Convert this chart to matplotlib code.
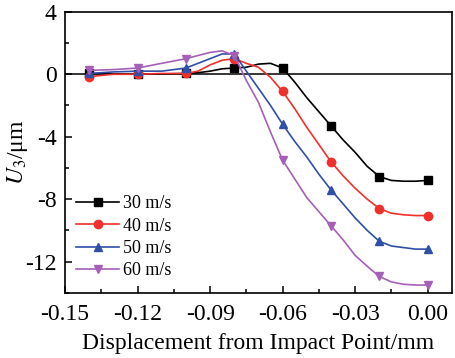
import matplotlib
matplotlib.use("Agg")
import matplotlib.pyplot as plt
from matplotlib.ticker import MultipleLocator

# displacement from impact point (mm)
x = [-0.14, -0.13, -0.12, -0.11, -0.10, -0.095, -0.09, -0.085, -0.08, -0.075,
     -0.07, -0.065, -0.06, -0.055, -0.05, -0.045, -0.04, -0.035, -0.03, -0.025,
     -0.02, -0.015, -0.01, -0.005, 0.00]

u3_30 = [0.05, 0.02, 0.0, 0.02, 0.05, 0.1, 0.2, 0.35, 0.4, 0.45,
         0.65, 0.7, 0.4, -0.5, -1.5, -2.4, -3.3, -4.2, -5.0, -5.9,
         -6.55, -6.8, -6.85, -6.85, -6.8]
u3_40 = [-0.15, 0.0, 0.0, 0.05, 0.05, 0.2, 0.6, 0.9, 1.0, 0.7,
         0.45, -0.2, -1.1, -2.2, -3.4, -4.5, -5.6, -6.5, -7.3, -8.0,
         -8.6, -8.9, -9.0, -9.05, -9.05]
u3_50 = [0.05, 0.15, 0.2, 0.2, 0.4, 0.7, 1.0, 1.3, 1.3, 0.2,
         -0.9, -2.0, -3.2, -4.3, -5.3, -6.4, -7.4, -8.3, -9.2, -10.0,
         -10.7, -11.0, -11.1, -11.2, -11.2]
u3_60 = [0.25, 0.3, 0.4, 0.7, 1.0, 1.2, 1.4, 1.5, 1.2, -0.4,
         -1.8, -3.7, -5.5, -6.7, -7.9, -8.8, -9.7, -10.6, -11.6, -12.3,
         -12.95, -13.3, -13.45, -13.5, -13.5]

labels = ["30 m/s", "40 m/s", "50 m/s", "60 m/s"]
series = [u3_30, u3_40, u3_50, u3_60]
colors = ["black", "#f0302a", "#2f4fa8", "#a65fb8"]
markers = ["s", "o", "^", "v"]
mark_idx = [0, 2, 4, 8, 12, 16, 20, 24]  # markers every 0.02 mm

plt.rcParams["font.family"] = ["Liberation Serif", "DejaVu Serif"]
plt.rcParams["mathtext.fontset"] = "stix"

fig = plt.figure(figsize=(4.55, 3.58), dpi=100)
ax = fig.add_axes([0.143, 0.182, 0.85, 0.785])

ax.axhline(0, color="black", lw=1.1, zorder=1)
for y, lab, c, m in zip(series, labels, colors, markers):
    ax.plot(x, y, color=c, lw=1.2, marker=m, markersize=6,
            markevery=mark_idx, label=lab, zorder=3)

ax.set_xlim(-0.15, 0.01)
ax.set_ylim(-14, 4)
ax.xaxis.set_minor_locator(MultipleLocator(0.015))
ax.yaxis.set_minor_locator(MultipleLocator(2))
ax.set_xticks([-0.15, -0.12, -0.09, -0.06, -0.03, 0.00])
ax.set_xticklabels(["-0.15", "-0.12", "-0.09", "-0.06", "-0.03", "0.00"])
ax.set_yticks([4, 0, -4, -8, -12])
ax.set_yticklabels(["4", "0", "-4", "-8", "-12"])
ax.tick_params(which="both", direction="in", labelsize=17, width=1.1)
ax.tick_params(axis="y", which="major", length=5, pad=6)
ax.tick_params(axis="x", which="major", length=5, pad=8)
ax.tick_params(which="minor", length=3)
for s in ax.spines.values():
    s.set_linewidth(1.2)

ax.set_xlabel("Displacement from Impact Point/mm", fontsize=17, labelpad=6)
ax.set_ylabel(r"$U_3$/μm", fontsize=17)
ax.yaxis.set_label_coords(-0.09, 0.5)

ax.legend(loc="lower left", bbox_to_anchor=(0.0, 0.009), frameon=False,
          fontsize=13, handlelength=2.4, handletextpad=0.2, labelspacing=0.3,
          borderaxespad=0.2)

fig.savefig("out.png", dpi=100)
